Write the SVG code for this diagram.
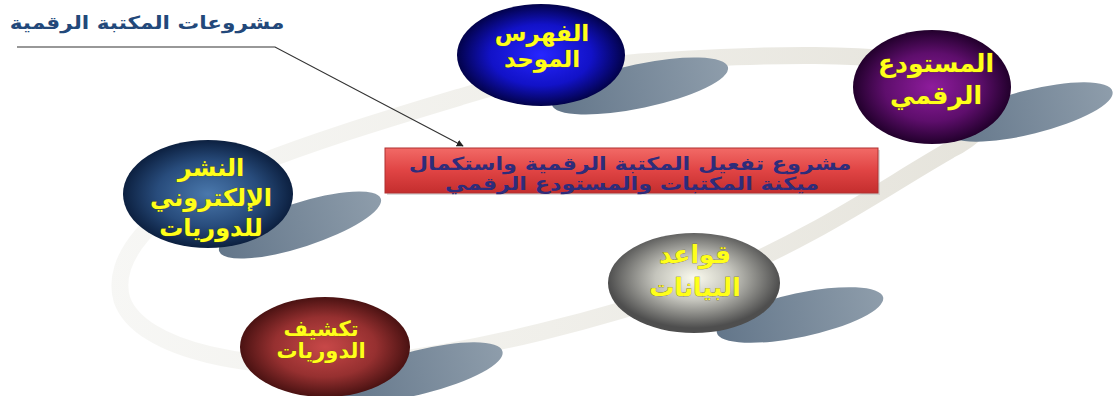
<svg xmlns="http://www.w3.org/2000/svg" width="1114" height="396" viewBox="0 0 1114 396">
<defs>
<style>
.lbl{font-family:"DejaVu Sans",sans-serif;font-weight:bold;fill:#ffff1a;text-anchor:middle;stroke:#6a5a00;stroke-width:0.5;paint-order:stroke}
.box{font-family:"DejaVu Sans",sans-serif;font-weight:bold;fill:#2e2c7a;text-anchor:middle;font-size:18px}
.ttl{font-family:"DejaVu Sans",sans-serif;font-weight:bold;fill:#22487a;text-anchor:middle;font-size:18px}
.shd{fill:url(#gShadow)}
</style>
<linearGradient id="gRing" x1="100" y1="0" x2="1000" y2="0" gradientUnits="userSpaceOnUse">
<stop offset="0" stop-color="#f7f7f5"/>
<stop offset="0.5" stop-color="#f0efea"/>
<stop offset="1" stop-color="#e5e3db"/>
</linearGradient>
<linearGradient id="gShadow" x1="0" y1="0" x2="1" y2="0">
<stop offset="0" stop-color="#63768a"/>
<stop offset="1" stop-color="#8e9dab"/>
</linearGradient>
<radialGradient id="gBlue" cx="0.5" cy="0.5" r="0.5">
<stop offset="0" stop-color="#2626ff"/>
<stop offset="0.6" stop-color="#1212c8"/>
<stop offset="1" stop-color="#02024a"/>
</radialGradient>
<radialGradient id="gPurple" cx="0.5" cy="0.5" r="0.5">
<stop offset="0" stop-color="#8e1c9c"/>
<stop offset="0.6" stop-color="#5e0e6c"/>
<stop offset="1" stop-color="#22002c"/>
</radialGradient>
<radialGradient id="gNavy" cx="0.5" cy="0.5" r="0.5">
<stop offset="0" stop-color="#4a78ac"/>
<stop offset="0.6" stop-color="#284c7c"/>
<stop offset="1" stop-color="#0c2040"/>
</radialGradient>
<radialGradient id="gGray" cx="0.5" cy="0.45" r="0.5">
<stop offset="0" stop-color="#fbfbee"/>
<stop offset="0.45" stop-color="#c4c4bc"/>
<stop offset="1" stop-color="#4e4e4e"/>
</radialGradient>
<radialGradient id="gMaroon" cx="0.5" cy="0.5" r="0.5">
<stop offset="0" stop-color="#c84848"/>
<stop offset="0.6" stop-color="#963030"/>
<stop offset="1" stop-color="#4a1212"/>
</radialGradient>
<linearGradient id="gRed" x1="0" y1="0" x2="0" y2="1">
<stop offset="0" stop-color="#f26a66"/>
<stop offset="0.5" stop-color="#e04444"/>
<stop offset="1" stop-color="#c42e2e"/>
</linearGradient>
<marker id="arr" viewBox="0 0 10 10" refX="9" refY="5" markerWidth="7" markerHeight="7" orient="auto" markerUnits="userSpaceOnUse">
<path d="M0,0 L10,5 L0,10 z" fill="#222"/>
</marker>
</defs>
<rect width="1114" height="396" fill="#ffffff"/>
<g id="ring">
<path d="M460,97 C530,75 590,66 640,62 C760,54 880,50 960,70 C1010,85 1000,125 950,150 C880,190 820,235 700,285 C600,320 480,350 380,362 C250,375 140,350 122,300 C110,260 150,210 230,175 C300,145 390,118 460,97 Z" fill="none" stroke="url(#gRing)" stroke-width="17"/>
</g>
<g id="title">
<text class="ttl" transform="translate(147,29) scale(1.2,1)">مشروعات المكتبة الرقمية</text>
</g>
<g id="connectors">
<polyline points="17,47 275,47 463,146" fill="none" stroke="#333" stroke-width="1.2" marker-end="url(#arr)"/>
</g>
<g id="node-fihris">
<ellipse class="shd" cx="640" cy="86" rx="90" ry="22" transform="rotate(-12 640 86)"/>
<ellipse cx="541" cy="55" rx="84" ry="51" fill="url(#gBlue)"/>
<text class="lbl" font-size="23" x="542" y="41">الفهرس</text>
<text class="lbl" font-size="23" x="542" y="67">الموحد</text>
</g>
<g id="node-mustawda">
<ellipse class="shd" cx="1030" cy="112" rx="85" ry="22" transform="rotate(-14 1030 112)"/>
<ellipse cx="932" cy="87" rx="79" ry="57" fill="url(#gPurple)"/>
<text class="lbl" font-size="25" x="936" y="72">المستودع</text>
<text class="lbl" font-size="25" x="936" y="104">الرقمي</text>
</g>
<g id="node-nashr">
<ellipse class="shd" cx="300" cy="225" rx="85" ry="22" transform="rotate(-18 300 225)"/>
<ellipse cx="208" cy="194" rx="85" ry="54" fill="url(#gNavy)"/>
<text class="lbl" font-size="24" x="211" y="176">النشر</text>
<text class="lbl" font-size="24" x="211" y="206">الإلكتروني</text>
<text class="lbl" font-size="24" x="211" y="236">للدوريات</text>
</g>
<g id="node-qawaid">
<ellipse class="shd" cx="800" cy="315" rx="85" ry="22" transform="rotate(-12 800 315)"/>
<ellipse cx="694" cy="283" rx="86" ry="50" fill="url(#gGray)"/>
<text class="lbl" font-size="25" x="695" y="263">قواعد</text>
<text class="lbl" font-size="25" x="695" y="296">البيانات</text>
</g>
<g id="node-takshif">
<ellipse class="shd" cx="420" cy="372" rx="85" ry="22" transform="rotate(-14 420 372)"/>
<ellipse cx="325" cy="347" rx="85" ry="50" fill="url(#gMaroon)"/>
<text class="lbl" font-size="21" x="321" y="336">تكشيف</text>
<text class="lbl" font-size="21" x="321" y="358">الدوريات</text>
</g>
<g id="node-project">
<rect x="387" y="150" width="493" height="45" fill="#b8b8b8" opacity="0.5"/>
<rect x="385" y="148" width="493" height="45" fill="url(#gRed)" stroke="#b03030" stroke-width="1"/>
<text class="box" transform="translate(630,170) scale(1.24,1)">مشروع تفعيل المكتبة الرقمية واستكمال</text>
<text class="box" transform="translate(632,190) scale(1.24,1)">ميكنة المكتبات والمستودع الرقمي</text>
</g>
</svg>
